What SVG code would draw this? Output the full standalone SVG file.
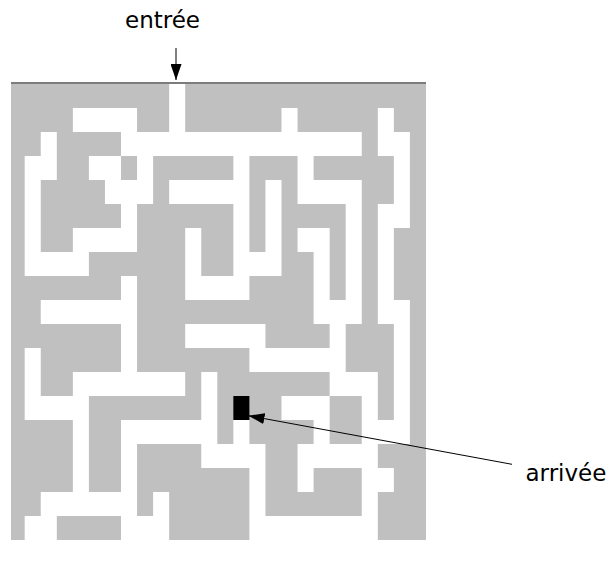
<svg xmlns="http://www.w3.org/2000/svg" width="610" height="563" viewBox="0 0 610 563">
<style>
.lbl{font-family:"DejaVu Sans",Verdana,sans-serif;font-size:23px;fill:#000}
.wall{fill:#c0c0c0}
.path rect{fill:#fff}
.conn{stroke:#000;stroke-width:1;fill:none}
</style>
<defs>
<marker id="ah" markerWidth="16" markerHeight="11" refX="16" refY="5.5" orient="auto" markerUnits="userSpaceOnUse">
<path d="M0,0 L16,5.5 L0,11 z" fill="#000"/>
</marker>
</defs>
<rect width="610" height="563" fill="#fff"/>
<g id="maze">
<rect class="wall" x="11" y="84" width="415" height="456"/>
<rect x="11" y="82" width="415" height="2" fill="#7c7c7c"/>
<g class="path" transform="translate(8.65 84) scale(16.05 24)">
<rect x="10" y="0" width="1" height="1"/>
<rect x="4" y="1" width="4" height="1"/><rect x="10" y="1" width="1" height="1"/><rect x="17" y="1" width="1" height="1"/><rect x="23" y="1" width="1" height="1"/>
<rect x="2" y="2" width="1" height="1"/><rect x="7" y="2" width="15" height="1"/><rect x="23" y="2" width="2" height="1"/>
<rect x="1" y="3" width="2" height="1"/><rect x="5" y="3" width="2" height="1"/><rect x="8" y="3" width="1" height="1"/><rect x="14" y="3" width="1" height="1"/><rect x="18" y="3" width="1" height="1"/><rect x="24" y="3" width="1" height="1"/>
<rect x="1" y="4" width="1" height="1"/><rect x="6" y="4" width="3" height="1"/><rect x="10" y="4" width="5" height="1"/><rect x="16" y="4" width="1" height="1"/><rect x="18" y="4" width="4" height="1"/><rect x="24" y="4" width="1" height="1"/>
<rect x="1" y="5" width="1" height="1"/><rect x="7" y="5" width="1" height="1"/><rect x="14" y="5" width="1" height="1"/><rect x="16" y="5" width="1" height="1"/><rect x="21" y="5" width="1" height="1"/><rect x="23" y="5" width="2" height="1"/>
<rect x="1" y="6" width="1" height="1"/><rect x="4" y="6" width="4" height="1"/><rect x="11" y="6" width="1" height="1"/><rect x="14" y="6" width="1" height="1"/><rect x="16" y="6" width="1" height="1"/><rect x="18" y="6" width="2" height="1"/><rect x="21" y="6" width="1" height="1"/><rect x="23" y="6" width="1" height="1"/>
<rect x="1" y="7" width="4" height="1"/><rect x="11" y="7" width="1" height="1"/><rect x="14" y="7" width="3" height="1"/><rect x="19" y="7" width="1" height="1"/><rect x="21" y="7" width="1" height="1"/><rect x="23" y="7" width="1" height="1"/>
<rect x="7" y="8" width="1" height="1"/><rect x="11" y="8" width="4" height="1"/><rect x="19" y="8" width="1" height="1"/><rect x="21" y="8" width="1" height="1"/><rect x="23" y="8" width="1" height="1"/>
<rect x="2" y="9" width="6" height="1"/><rect x="19" y="9" width="3" height="1"/><rect x="23" y="9" width="2" height="1"/>
<rect x="7" y="10" width="1" height="1"/><rect x="11" y="10" width="5" height="1"/><rect x="20" y="10" width="1" height="1"/><rect x="24" y="10" width="1" height="1"/>
<rect x="1" y="11" width="1" height="1"/><rect x="7" y="11" width="1" height="1"/><rect x="15" y="11" width="6" height="1"/><rect x="24" y="11" width="1" height="1"/>
<rect x="1" y="12" width="1" height="1"/><rect x="4" y="12" width="7" height="1"/><rect x="12" y="12" width="1" height="1"/><rect x="20" y="12" width="3" height="1"/><rect x="24" y="12" width="1" height="1"/>
<rect x="1" y="13" width="4" height="1"/><rect x="12" y="13" width="1" height="1"/><rect x="17" y="13" width="3" height="1"/><rect x="22" y="13" width="1" height="1"/><rect x="24" y="13" width="1" height="1"/>
<rect x="4" y="14" width="1" height="1"/><rect x="7" y="14" width="6" height="1"/><rect x="14" y="14" width="1" height="1"/><rect x="19" y="14" width="1" height="1"/><rect x="22" y="14" width="3" height="1"/>
<rect x="4" y="15" width="1" height="1"/><rect x="7" y="15" width="1" height="1"/><rect x="12" y="15" width="4" height="1"/><rect x="18" y="15" width="5" height="1"/>
<rect x="4" y="16" width="1" height="1"/><rect x="7" y="16" width="1" height="1"/><rect x="15" y="16" width="1" height="1"/><rect x="18" y="16" width="1" height="1"/><rect x="22" y="16" width="2" height="1"/>
<rect x="2" y="17" width="6" height="1"/><rect x="9" y="17" width="1" height="1"/><rect x="15" y="17" width="1" height="1"/><rect x="22" y="17" width="1" height="1"/>
<rect x="1" y="18" width="2" height="1"/><rect x="7" y="18" width="3" height="1"/><rect x="15" y="18" width="8" height="1"/>
<rect x="14" y="13" width="1" height="1" fill="#000" style="fill:#000"/>
</g>
</g>
<g id="entree">
<text class="lbl" x="125" y="27.5">entrée</text>
</g>
<g id="arrivee">
<text class="lbl" x="525.5" y="480.5">arrivée</text>
</g>
<g id="connectors">
<line class="conn" x1="176" y1="48" x2="176" y2="80" marker-end="url(#ah)"/>
<line class="conn" x1="512" y1="464.3" x2="248.5" y2="415.7" marker-end="url(#ah)"/>
</g>
</svg>
